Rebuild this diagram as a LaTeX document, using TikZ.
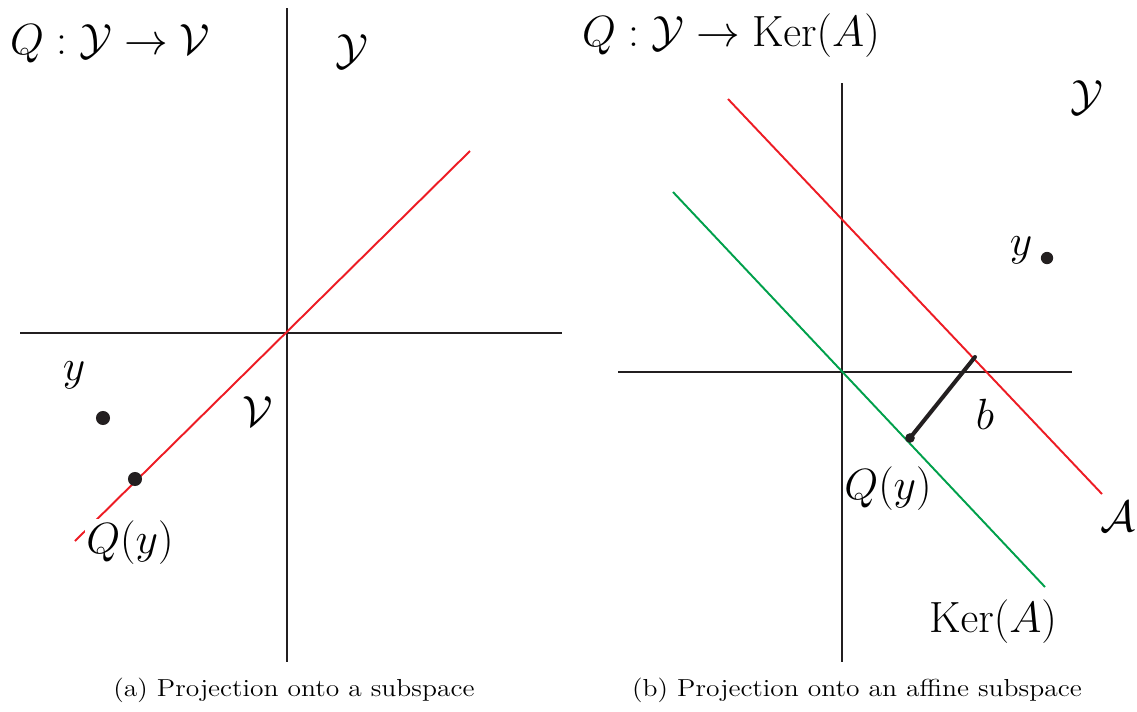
\documentclass[tikz,border=0pt]{standalone}
\usepackage{amsmath, amssymb}
\usepackage{graphicx}
\usepackage{xcolor}
\usetikzlibrary{positioning}
\definecolor{prjred}{RGB}{237, 28, 36}
\definecolor{prjgreen}{RGB}{0, 160, 75}
\definecolor{prjgray}{RGB}{35, 31, 32}
\newcommand{\capttext}[1]{\scalebox{1.12}[1]{#1}}

\begin{document}
\begin{tikzpicture}[x=0.02cm, y=-0.02cm,
  axis/.style={prjgray, line width=1.1pt},
  subsp/.style={line width=1.1pt},
  lbl/.style={font=\fontsize{24}{28}\selectfont, inner sep=1pt},
  capt/.style={font=\fontsize{14}{17}\selectfont},
  dotpt/.style={circle, fill=prjgray, inner sep=0pt, minimum size=#1}]

  \useasboundingbox (0,0) rectangle (1137,711);

  % --- (a) axes ---
  \coordinate (aN) at (287,8);
  \coordinate (aS) at (287,662);
  \coordinate (aW) at (20,333);
  \coordinate (aE) at (562,333);
  \draw[axis] (aN) -- (aS);
  \draw[axis] (aW) -- (aE);

  % --- (a) subspace V ---
  \coordinate (vLo) at (75,541);
  \coordinate (vHi) at (470,151);
  \draw[subsp, prjred] (vLo) -- (vHi);

  % --- (a) points and labels ---
  \node[dotpt=8pt] (ay) at (103,418) {};
  \node[dotpt=8pt] (aQy) at (135,479) {};
  \node[lbl] (ayLbl) at (74,375) {$y$};
  \node[lbl] (aV) at (258,412) {$\mathcal{V}$};
  \node[lbl, fill=white] (aQyLbl) at (130,543) {$Q(y)$};
  \node[lbl] (aY) at (352,52) {$\mathcal{Y}$};
  \node[lbl, anchor=base west] (aTitle) at (8,54)
    {$Q:\mathcal{Y}\rightarrow\mathcal{V}$};

  % --- (b) axes ---
  \coordinate (bN) at (842,83);
  \coordinate (bS) at (842,662);
  \coordinate (bW) at (618,372);
  \coordinate (bE) at (1072,372);
  \draw[axis] (bN) -- (bS);
  \draw[axis] (bW) -- (bE);

  % --- (b) affine set A and Ker(A) ---
  \coordinate (affHi) at (728,99);
  \coordinate (affLo) at (1102,494);
  \coordinate (kerHi) at (673,192);
  \coordinate (kerLo) at (1045,587);
  \draw[subsp, prjred] (affHi) -- (affLo);
  \draw[subsp, prjgreen] (kerHi) -- (kerLo);

  % --- (b) offset b ---
  \node[dotpt=5.5pt] (bQy) at (910,438) {};
  \coordinate (bTip) at (975,357);
  \draw[prjgray, line width=2.3pt, line cap=round] (bQy.center) -- (bTip);

  % --- (b) points and labels ---
  \node[dotpt=7pt] (by) at (1047,258) {};
  \node[lbl] (byLbl) at (1021,250) {$y$};
  \node[lbl] (bLbl) at (985,414) {$b$};
  \node[lbl] (bQyLbl) at (888,489) {$Q(y)$};
  \node[lbl] (bA) at (1118,517) {$\mathcal{A}$};
  \node[lbl] (bKer) at (993,622) {$\mathrm{Ker}(A)$};
  \node[lbl] (bY) at (1087,98) {$\mathcal{Y}$};
  \node[lbl, anchor=base west] (bTitle) at (580,46)
    {$Q:\mathcal{Y}\rightarrow\mathrm{Ker}(A)$};

  % --- captions ---
  \node[capt] (capA) at (294,690) {\capttext{(a) Projection onto a subspace}};
  \node[capt] (capB) at (857,690) {\capttext{(b) Projection onto an affine subspace}};

\end{tikzpicture}
\end{document}
